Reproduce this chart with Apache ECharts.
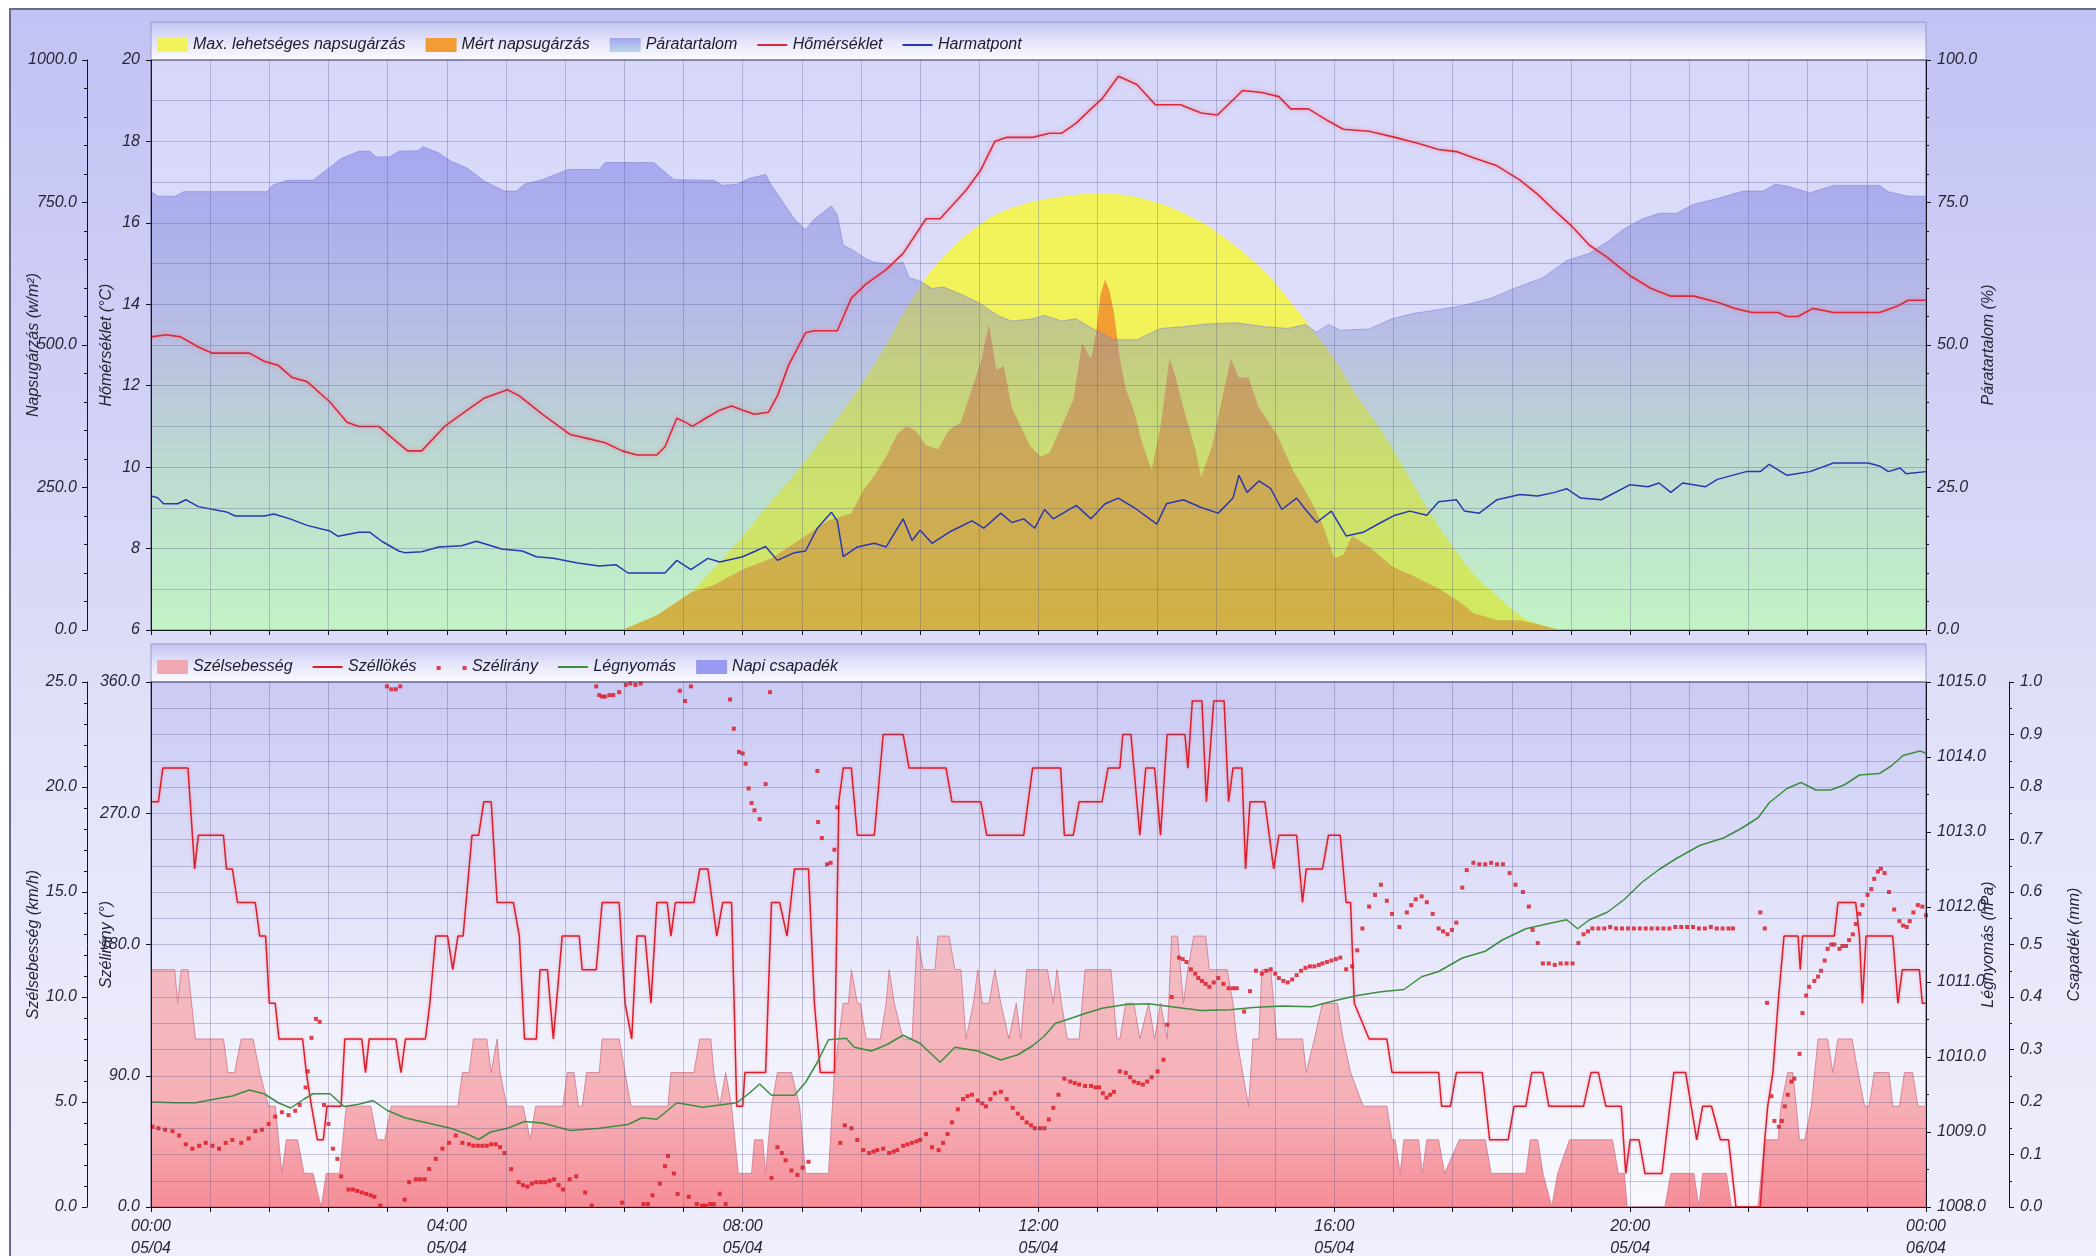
<!DOCTYPE html>
<html><head><meta charset="utf-8">
<script src="https://cdn.jsdelivr.net/npm/echarts@6/dist/echarts.min.js"></script>
<style>html,body{margin:0;padding:0;background:#fff}#c{width:2096px;height:1256px}</style>
</head><body><div id="c"></div>
<script>
// x values are hours of 05/04 (0 = 00:00, 24 = 00:00 of 06/04)
const timeTickLabels = ['00:00\n05/04','04:00\n05/04','08:00\n05/04','12:00\n05/04','16:00\n05/04','20:00\n05/04','00:00\n06/04'];

const temperature = [[0,13.2],[0.21,13.25],[0.4,13.2],[0.64,12.95],[0.83,12.8],[1.33,12.8],[1.53,12.6],[1.72,12.5],[1.91,12.2],[2.11,12.1],[2.42,11.6],[2.65,11.1],[2.81,11.0],[3.08,11.0],[3.27,10.7],[3.47,10.4],[3.66,10.4],[3.97,11.0],[4.2,11.3],[4.51,11.7],[4.82,11.9],[4.98,11.75],[5.29,11.3],[5.67,10.8],[5.91,10.7],[6.14,10.6],[6.37,10.4],[6.57,10.3],[6.84,10.3],[6.95,10.5],[7.11,11.2],[7.23,11.1],[7.32,11.0],[7.5,11.2],[7.69,11.4],[7.85,11.5],[8.0,11.4],[8.16,11.3],[8.35,11.35],[8.47,11.75],[8.62,12.5],[8.85,13.3],[8.97,13.35],[9.28,13.35],[9.47,14.15],[9.67,14.5],[9.94,14.85],[10.17,15.25],[10.48,16.1],[10.67,16.1],[11.02,16.8],[11.22,17.3],[11.41,18.0],[11.57,18.1],[11.92,18.1],[12.15,18.2],[12.31,18.2],[12.51,18.45],[12.71,18.8],[12.86,19.05],[13.08,19.6],[13.33,19.4],[13.58,18.9],[13.92,18.9],[14.2,18.7],[14.42,18.65],[14.59,18.95],[14.76,19.25],[15.02,19.2],[15.25,19.1],[15.41,18.8],[15.65,18.8],[15.92,18.5],[16.12,18.3],[16.47,18.25],[16.82,18.1],[17.14,17.95],[17.41,17.8],[17.65,17.75],[17.88,17.6],[18.2,17.4],[18.51,17.05],[18.75,16.7],[18.98,16.3],[19.22,15.9],[19.45,15.45],[19.69,15.15],[20.0,14.7],[20.27,14.4],[20.55,14.2],[20.86,14.2],[21.18,14.05],[21.41,13.9],[21.65,13.8],[22.0,13.8],[22.12,13.7],[22.27,13.7],[22.47,13.9],[22.75,13.8],[23.37,13.8],[23.61,13.95],[23.76,14.1],[24,14.1]];

const dewPoint = [[0,9.29],[0.09,9.25],[0.17,9.1],[0.36,9.1],[0.47,9.2],[0.64,9.03],[1.02,8.9],[1.14,8.8],[1.53,8.8],[1.66,8.85],[1.88,8.73],[2.11,8.57],[2.42,8.43],[2.53,8.3],[2.81,8.4],[2.96,8.4],[3.12,8.18],[3.35,7.94],[3.43,7.9],[3.66,7.92],[3.89,8.04],[4.2,8.07],[4.4,8.18],[4.74,7.99],[5.02,7.94],[5.21,7.8],[5.44,7.76],[5.75,7.65],[6.06,7.57],[6.29,7.6],[6.45,7.4],[6.95,7.4],[7.11,7.71],[7.3,7.48],[7.53,7.76],[7.69,7.67],[8.0,7.8],[8.31,8.05],[8.47,7.71],[8.7,7.9],[8.85,7.94],[9.01,8.5],[9.2,8.89],[9.28,8.68],[9.36,7.8],[9.55,8.04],[9.78,8.13],[9.94,8.04],[10.17,8.73],[10.29,8.2],[10.4,8.45],[10.56,8.13],[10.79,8.4],[11.1,8.68],[11.26,8.5],[11.49,8.87],[11.64,8.64],[11.8,8.73],[11.95,8.5],[12.08,8.96],[12.2,8.73],[12.51,9.06],[12.71,8.73],[12.9,9.1],[13.08,9.24],[13.33,8.96],[13.6,8.6],[13.73,9.1],[13.96,9.2],[14.2,9.01],[14.43,8.87],[14.63,9.24],[14.71,9.8],[14.82,9.38],[14.98,9.66],[15.14,9.47],[15.29,8.96],[15.49,9.24],[15.61,8.96],[15.76,8.64],[15.96,8.92],[16.16,8.31],[16.39,8.4],[16.63,8.64],[16.82,8.82],[17.02,8.92],[17.25,8.82],[17.41,9.15],[17.65,9.2],[17.76,8.92],[17.96,8.87],[18.2,9.2],[18.51,9.33],[18.75,9.29],[18.98,9.38],[19.14,9.47],[19.33,9.24],[19.61,9.2],[20.0,9.57],[20.24,9.52],[20.39,9.61],[20.55,9.38],[20.71,9.61],[21.02,9.52],[21.18,9.7],[21.57,9.89],[21.76,9.89],[21.88,10.07],[22.12,9.8],[22.43,9.89],[22.75,10.1],[23.22,10.1],[23.37,10.03],[23.49,9.89],[23.65,9.98],[23.73,9.84],[24,9.89]];

const humidity = [[0,77.0],[0.09,76.1],[0.33,76.1],[0.44,76.9],[1.57,76.9],[1.64,78.0],[1.84,78.9],[2.19,78.9],[2.38,80.8],[2.57,82.7],[2.81,84.0],[2.96,84.0],[3.04,83.0],[3.23,83.0],[3.35,84.0],[3.62,84.1],[3.67,84.8],[3.89,83.7],[4.05,82.3],[4.28,81.0],[4.51,78.7],[4.78,77.0],[4.94,77.0],[5.05,78.2],[5.29,79.0],[5.64,80.8],[6.06,80.8],[6.14,82.0],[6.8,82.0],[7.07,79.0],[7.61,78.9],[7.73,78.0],[7.92,78.2],[8.08,79.2],[8.31,79.9],[8.39,78.0],[8.7,72.1],[8.85,70.2],[8.97,72.1],[9.2,74.4],[9.28,72.8],[9.36,67.5],[9.47,66.8],[9.67,65.1],[9.78,64.5],[10.02,64.2],[10.17,64.5],[10.25,61.8],[10.4,61.2],[10.56,59.9],[10.71,60.2],[10.95,58.9],[11.18,57.5],[11.33,56.2],[11.49,54.9],[11.64,54.2],[11.92,54.6],[12.08,55.2],[12.31,54.2],[12.51,54.6],[12.71,53.0],[13.02,50.9],[13.33,50.9],[13.65,52.9],[13.96,53.2],[14.27,53.7],[14.67,53.9],[15.06,53.2],[15.37,52.9],[15.61,53.6],[15.76,52.2],[15.92,53.6],[16.08,52.6],[16.47,52.8],[16.78,54.6],[17.1,55.6],[17.41,56.2],[17.73,56.9],[18.12,58.2],[18.43,59.9],[18.82,61.8],[19.14,64.8],[19.45,66.1],[19.69,68.1],[19.92,70.4],[20.16,72.1],[20.39,73.1],[20.63,73.1],[20.86,74.7],[21.18,75.7],[21.53,77.0],[21.8,77.0],[21.96,78.2],[22.12,77.9],[22.43,76.7],[22.75,78.0],[23.37,78.0],[23.49,76.9],[23.76,76.1],[24,76.1]];

const maxRadiation = [[6.37,0],[6.66,7],[6.97,26],[7.34,71],[7.85,142],[8.31,214],[8.78,286],[9.2,357],[9.59,428],[9.94,501],[10.25,572],[10.64,644],[11.26,716],[11.8,747],[12.39,762],[12.82,766],[13.49,754],[14.12,721],[14.59,681],[15.06,628],[15.37,582],[15.69,529],[16.0,476],[16.31,410],[16.63,351],[16.94,284],[17.25,215],[17.57,152],[17.88,99],[18.2,60],[18.51,26],[18.82,7],[19.06,0]];

const measuredRadiation = [[6.37,0],[6.84,26],[7.3,66],[7.61,79],[8.0,106],[8.39,126],[8.78,159],[9.16,192],[9.47,205],[9.63,245],[9.78,271],[9.94,304],[10.09,344],[10.21,357],[10.33,351],[10.48,324],[10.64,317],[10.79,351],[10.95,364],[11.1,423],[11.22,470],[11.33,536],[11.43,456],[11.53,463],[11.64,390],[11.76,357],[11.88,324],[12.03,304],[12.15,311],[12.31,357],[12.47,403],[12.59,503],[12.71,476],[12.78,522],[12.84,589],[12.9,615],[12.96,595],[13.02,556],[13.1,476],[13.18,423],[13.29,384],[13.41,324],[13.53,281],[13.65,357],[13.77,476],[13.84,450],[13.96,390],[14.12,317],[14.2,268],[14.35,324],[14.51,423],[14.6,476],[14.71,443],[14.84,443],[14.98,390],[15.22,344],[15.45,278],[15.69,225],[15.84,185],[16.0,126],[16.12,132],[16.24,165],[16.47,146],[16.78,112],[17.1,93],[17.41,73],[17.73,46],[17.88,30],[18.2,17],[18.51,17],[18.75,10],[19.06,0]];

const windSpeed = [[0,11.3],[0.32,11.3],[0.36,9.7],[0.41,11.3],[0.5,11.3],[0.6,8.0],[0.98,8.0],[1.04,6.4],[1.13,6.4],[1.22,8.0],[1.38,8.0],[1.47,6.4],[1.59,4.8],[1.68,4.8],[1.77,1.6],[1.83,3.2],[1.98,3.2],[2.07,1.6],[2.19,1.6],[2.3,0],[2.37,1.6],[2.55,1.6],[2.64,4.8],[2.97,4.8],[3.06,3.2],[3.16,3.2],[3.25,4.8],[4.15,4.8],[4.21,6.4],[4.3,6.4],[4.36,8.0],[4.54,8.0],[4.6,6.4],[4.68,8.0],[4.72,6.4],[4.81,4.8],[5.03,4.8],[5.13,3.2],[5.2,4.8],[5.57,4.8],[5.63,6.4],[5.72,6.4],[5.78,4.8],[5.83,4.8],[5.89,6.4],[6.06,6.4],[6.1,8.0],[6.33,8.0],[6.41,6.4],[6.49,4.8],[6.99,4.8],[7.03,6.4],[7.34,6.4],[7.42,8.0],[7.57,8.0],[7.61,6.4],[7.69,4.8],[7.77,6.4],[7.85,4.8],[7.94,1.6],[8.12,1.6],[8.16,3.2],[8.27,3.2],[8.31,1.6],[8.39,4.8],[8.47,6.4],[8.66,6.4],[8.77,4.8],[8.85,1.6],[9.16,1.6],[9.24,6.4],[9.36,9.7],[9.43,9.7],[9.47,11.3],[9.55,9.7],[9.59,9.7],[9.67,8.0],[9.86,8.0],[9.94,9.7],[9.98,11.3],[10.05,9.7],[10.17,8.0],[10.29,8.0],[10.36,12.9],[10.44,11.3],[10.6,11.3],[10.64,12.9],[10.79,12.9],[10.87,11.3],[10.95,11.3],[11.02,8.0],[11.12,9.7],[11.18,11.3],[11.24,9.7],[11.33,9.7],[11.41,11.3],[11.49,9.7],[11.6,8.0],[11.7,9.7],[11.76,8.0],[11.84,11.3],[12.12,11.3],[12.2,9.7],[12.25,11.3],[12.31,9.7],[12.39,8.0],[12.55,8.0],[12.63,11.3],[12.98,11.3],[13.06,8.0],[13.1,8.0],[13.18,9.7],[13.29,9.7],[13.37,8.0],[13.49,9.7],[13.57,8.0],[13.65,9.7],[13.74,8.0],[13.8,12.9],[13.88,12.9],[13.96,9.7],[14.02,11.3],[14.1,12.9],[14.26,12.9],[14.31,11.3],[14.55,11.3],[14.63,9.7],[14.68,8.0],[14.76,6.4],[14.84,4.8],[14.9,8.0],[14.98,8.0],[15.02,11.3],[15.14,11.3],[15.22,8.0],[15.57,8.0],[15.62,6.4],[15.73,8.0],[15.84,9.7],[16.04,9.7],[16.12,8.0],[16.22,6.4],[16.39,4.8],[16.71,4.8],[16.78,3.2],[16.82,3.2],[16.89,1.6],[16.94,3.2],[17.14,3.2],[17.19,1.6],[17.25,3.2],[17.41,3.2],[17.49,1.6],[17.69,3.2],[18.04,3.2],[18.12,1.6],[18.59,1.6],[18.65,3.2],[18.75,3.2],[18.82,1.6],[18.94,0],[19.02,1.6],[19.18,3.2],[19.76,3.2],[19.84,1.6],[19.92,1.6],[19.96,0],[20.47,0],[20.55,1.6],[20.86,1.6],[20.93,0],[20.98,1.6],[21.3,1.6],[21.37,0],[21.73,0],[21.82,3.2],[22.0,3.2],[22.04,4.8],[22.13,6.4],[22.2,6.4],[22.29,3.2],[22.36,3.2],[22.45,4.8],[22.54,8.0],[22.67,8.0],[22.74,6.4],[22.81,8.0],[23.0,8.0],[23.08,6.4],[23.17,4.8],[23.23,4.8],[23.3,6.4],[23.5,6.4],[23.55,4.8],[23.64,4.8],[23.71,6.4],[23.82,6.4],[23.89,4.8],[24,4.8]];

const windGust = [[0,19.3],[0.1,19.3],[0.16,20.9],[0.5,20.9],[0.59,16.1],[0.64,17.7],[0.98,17.7],[1.02,16.1],[1.1,16.1],[1.17,14.5],[1.41,14.5],[1.47,12.9],[1.55,12.9],[1.6,9.7],[1.68,9.7],[1.73,8.0],[2.05,8.0],[2.1,6.4],[2.17,4.8],[2.25,3.2],[2.33,3.2],[2.38,4.8],[2.57,4.8],[2.62,8.0],[2.85,8.0],[2.9,6.4],[2.95,8.0],[3.31,8.0],[3.38,6.4],[3.44,8.0],[3.71,8.0],[3.77,9.7],[3.85,12.9],[4.01,12.9],[4.08,11.3],[4.15,12.9],[4.22,12.9],[4.34,17.7],[4.43,17.7],[4.5,19.3],[4.6,19.3],[4.68,14.5],[4.9,14.5],[4.98,12.9],[5.05,8.0],[5.21,8.0],[5.26,11.3],[5.36,11.3],[5.44,8.0],[5.56,12.9],[5.79,12.9],[5.83,11.3],[6.02,11.3],[6.1,14.5],[6.33,14.5],[6.41,9.7],[6.5,8.0],[6.57,12.9],[6.68,12.9],[6.76,9.7],[6.84,14.5],[6.98,14.5],[7.03,12.9],[7.09,14.5],[7.34,14.5],[7.42,16.1],[7.53,16.1],[7.65,12.9],[7.73,14.5],[7.85,14.5],[7.92,4.8],[8.0,4.8],[8.03,6.4],[8.31,6.4],[8.39,14.5],[8.5,14.5],[8.6,12.9],[8.7,16.1],[8.89,16.1],[8.97,9.7],[9.05,6.4],[9.24,6.4],[9.3,19.3],[9.36,20.9],[9.47,20.9],[9.55,17.7],[9.78,17.7],[9.9,22.5],[10.17,22.5],[10.25,20.9],[10.75,20.9],[10.83,19.3],[11.22,19.3],[11.3,17.7],[11.8,17.7],[11.92,20.9],[12.3,20.9],[12.35,17.7],[12.47,17.7],[12.55,19.3],[12.86,19.3],[12.94,20.9],[13.1,20.9],[13.14,22.5],[13.25,22.5],[13.37,17.7],[13.45,20.9],[13.57,20.9],[13.65,17.7],[13.74,22.5],[13.98,22.5],[14.02,20.9],[14.08,24.1],[14.21,24.1],[14.27,19.3],[14.37,24.1],[14.51,24.1],[14.57,19.3],[14.63,20.9],[14.75,20.9],[14.8,16.1],[14.86,19.3],[15.06,19.3],[15.18,16.1],[15.25,17.7],[15.49,17.7],[15.57,14.5],[15.62,16.1],[15.84,16.1],[15.92,17.7],[16.08,17.7],[16.16,14.5],[16.22,14.5],[16.27,9.7],[16.47,8.0],[16.71,8.0],[16.78,6.4],[17.41,6.4],[17.45,4.8],[17.57,4.8],[17.65,6.4],[18.0,6.4],[18.1,3.2],[18.35,3.2],[18.43,4.8],[18.59,4.8],[18.67,6.4],[18.82,6.4],[18.9,4.8],[19.37,4.8],[19.47,6.4],[19.57,6.4],[19.67,4.8],[19.88,4.8],[19.94,1.6],[20.0,3.2],[20.12,3.2],[20.2,1.6],[20.43,1.6],[20.59,6.4],[20.75,6.4],[20.9,3.2],[20.98,4.8],[21.1,4.8],[21.22,3.2],[21.33,3.2],[21.43,0],[21.76,0],[21.82,3.2],[21.86,4.8],[21.93,6.4],[22.0,9.7],[22.04,11.3],[22.08,12.9],[22.27,12.9],[22.3,11.3],[22.33,12.9],[22.76,12.9],[22.81,14.5],[23.05,14.5],[23.1,12.9],[23.14,9.7],[23.19,12.9],[23.55,12.9],[23.62,9.7],[23.68,11.3],[23.91,11.3],[23.95,9.7],[24,9.7]];

const windDirection = [[0.02,55],[0.1,54],[0.19,53],[0.29,52],[0.38,49],[0.47,43],[0.56,40],[0.65,42],[0.74,44],[0.83,42],[0.92,40],[1.01,44],[1.1,46],[1.22,44],[1.32,47],[1.41,52],[1.5,53],[1.59,57],[1.68,62],[1.77,65],[1.86,63],[1.95,66],[2.01,70],[2.09,82],[2.12,93],[2.17,116],[2.23,129],[2.28,127],[2.34,70],[2.4,57],[2.46,40],[2.52,33],[2.57,21],[2.67,12],[2.73,12],[2.79,11],[2.85,10],[2.91,9],[2.97,8],[3.02,7],[3.1,1],[3.19,357],[3.25,355],[3.31,355],[3.37,357],[3.43,5],[3.49,17],[3.58,19],[3.64,19],[3.7,19],[3.76,26],[3.85,33],[3.94,40],[4.03,44],[4.12,49],[4.21,44],[4.3,43],[4.36,42],[4.42,42],[4.48,42],[4.54,42],[4.6,43],[4.66,43],[4.72,41],[4.78,37],[4.87,26],[4.97,17],[5.03,15],[5.09,14],[5.15,16],[5.21,17],[5.27,17],[5.33,17],[5.39,18],[5.45,19],[5.51,15],[5.57,12],[5.66,19],[5.75,21],[5.87,10],[5.96,1],[6.02,357],[6.06,351],[6.1,350],[6.14,350],[6.2,351],[6.25,351],[6.33,353],[6.37,3],[6.42,358],[6.48,359],[6.55,358],[6.62,359],[6.66,2],[6.72,2],[6.78,8],[6.88,16],[6.95,28],[6.99,35],[7.07,23],[7.12,9],[7.15,354],[7.22,347],[7.27,7],[7.3,357],[7.38,2],[7.45,1],[7.5,1],[7.56,2],[7.61,2],[7.69,9],[7.77,2],[7.83,348],[7.88,328],[7.95,312],[8.0,311],[8.04,304],[8.08,287],[8.12,277],[8.16,272],[8.23,266],[8.31,290],[8.37,353],[8.39,20],[8.47,41],[8.53,37],[8.58,32],[8.66,25],[8.74,22],[8.81,27],[8.89,31],[9.01,299],[9.02,264],[9.07,253],[9.14,235],[9.19,236],[9.24,245],[9.28,274],[9.32,44],[9.38,56],[9.47,54],[9.55,46],[9.63,39],[9.71,37],[9.77,38],[9.82,39],[9.9,40],[9.98,37],[10.04,38],[10.09,39],[10.17,42],[10.23,43],[10.29,44],[10.35,45],[10.4,46],[10.48,50],[10.56,41],[10.65,39],[10.71,44],[10.77,50],[10.83,58],[10.91,67],[10.98,74],[11.04,76],[11.1,77],[11.18,73],[11.24,71],[11.29,69],[11.35,74],[11.41,78],[11.49,79],[11.57,74],[11.65,68],[11.72,64],[11.78,61],[11.84,58],[11.9,56],[11.95,54],[12.02,54],[12.08,54],[12.14,60],[12.2,68],[12.27,77],[12.35,88],[12.43,86],[12.49,85],[12.55,84],[12.63,83],[12.71,83],[12.77,82],[12.82,82],[12.87,78],[12.92,75],[12.97,77],[13.02,79],[13.1,93],[13.18,92],[13.24,89],[13.29,86],[13.35,85],[13.41,84],[13.47,86],[13.53,89],[13.61,93],[13.69,101],[13.74,125],[13.8,144],[13.9,171],[13.95,170],[14.0,168],[14.06,163],[14.12,160],[14.16,157],[14.21,155],[14.26,153],[14.31,151],[14.37,154],[14.43,157],[14.5,153],[14.57,150],[14.63,150],[14.68,150],[14.78,134],[14.86,148],[14.94,162],[15.02,160],[15.08,162],[15.14,163],[15.2,160],[15.25,157],[15.31,155],[15.37,154],[15.43,156],[15.49,159],[15.55,162],[15.61,164],[15.67,165],[15.73,165],[15.79,166],[15.84,167],[15.9,168],[15.96,169],[16.02,170],[16.08,171],[16.16,163],[16.24,165],[16.31,176],[16.38,191],[16.47,206],[16.55,214],[16.63,221],[16.71,210],[16.78,201],[16.88,192],[16.98,202],[17.04,207],[17.1,211],[17.18,213],[17.25,209],[17.33,201],[17.41,191],[17.47,189],[17.53,187],[17.59,190],[17.65,195],[17.73,219],[17.79,231],[17.88,236],[17.96,235],[18.04,235],[18.12,236],[18.2,235],[18.28,235],[18.37,229],[18.45,221],[18.55,216],[18.63,206],[18.68,190],[18.75,181],[18.82,167],[18.9,167],[18.98,166],[19.06,167],[19.14,167],[19.22,167],[19.3,181],[19.37,187],[19.43,189],[19.49,191],[19.57,191],[19.65,191],[19.73,192],[19.81,191],[19.89,191],[19.97,191],[20.05,191],[20.13,191],[20.21,191],[20.29,191],[20.37,191],[20.45,191],[20.53,191],[20.61,192],[20.69,192],[20.77,192],[20.85,192],[20.93,191],[21.01,191],[21.09,192],[21.17,191],[21.25,191],[21.33,191],[21.39,191],[21.76,202],[21.82,191],[21.85,140],[21.91,76],[21.95,59],[22.01,55],[22.05,59],[22.09,69],[22.13,77],[22.18,86],[22.22,88],[22.29,105],[22.33,133],[22.38,145],[22.42,151],[22.49,155],[22.54,158],[22.58,162],[22.63,169],[22.67,177],[22.72,180],[22.76,180],[22.83,177],[22.87,179],[22.92,179],[22.96,183],[23.01,187],[23.05,194],[23.1,201],[23.14,207],[23.21,214],[23.26,218],[23.3,225],[23.35,230],[23.39,232],[23.44,229],[23.5,216],[23.57,204],[23.64,196],[23.69,193],[23.74,192],[23.78,196],[23.83,202],[23.89,207],[23.95,206],[24.0,200]];

const pressure = [[0,1009.40],[0.33,1009.39],[0.6,1009.39],[0.87,1009.44],[1.1,1009.48],[1.33,1009.56],[1.53,1009.51],[1.72,1009.39],[1.89,1009.32],[2.07,1009.44],[2.19,1009.51],[2.42,1009.51],[2.61,1009.34],[2.81,1009.37],[3.0,1009.42],[3.19,1009.29],[3.43,1009.19],[3.74,1009.12],[4.05,1009.05],[4.28,1008.97],[4.43,1008.90],[4.59,1009.0],[4.82,1009.05],[5.05,1009.14],[5.29,1009.12],[5.67,1009.02],[6.06,1009.05],[6.45,1009.10],[6.64,1009.19],[6.84,1009.17],[7.11,1009.39],[7.46,1009.33],[7.92,1009.39],[8.08,1009.51],[8.23,1009.64],[8.39,1009.49],[8.7,1009.49],[8.85,1009.66],[9.01,1009.93],[9.16,1010.23],[9.4,1010.25],[9.51,1010.13],[9.74,1010.08],[9.94,1010.16],[10.17,1010.29],[10.4,1010.18],[10.67,1009.93],[10.87,1010.13],[11.18,1010.08],[11.49,1009.96],[11.72,1010.03],[11.92,1010.15],[12.08,1010.28],[12.23,1010.45],[12.39,1010.50],[12.63,1010.58],[12.86,1010.65],[13.18,1010.70],[13.49,1010.71],[13.8,1010.67],[14.2,1010.62],[14.59,1010.63],[14.9,1010.66],[15.29,1010.68],[15.69,1010.67],[16.0,1010.75],[16.31,1010.82],[16.63,1010.87],[16.94,1010.90],[17.18,1011.07],[17.41,1011.14],[17.73,1011.32],[18.04,1011.41],[18.27,1011.56],[18.59,1011.71],[18.9,1011.78],[19.14,1011.83],[19.29,1011.71],[19.45,1011.83],[19.69,1011.93],[19.92,1012.10],[20.16,1012.33],[20.39,1012.50],[20.63,1012.65],[20.94,1012.82],[21.26,1012.92],[21.49,1013.04],[21.73,1013.19],[21.88,1013.39],[22.12,1013.58],[22.31,1013.66],[22.51,1013.56],[22.71,1013.56],[22.9,1013.63],[23.1,1013.76],[23.37,1013.78],[23.53,1013.88],[23.69,1014.02],[23.92,1014.08],[24,1014.05]];

const dailyRain = [[0,0],[24,0]];

const FONT = "'Liberation Sans', Arial, sans-serif";
const TXT = '#262636';
const GRIDLINE = 'rgba(80,80,130,0.30)';
const LINE_ICON = 'path://M0,0M0,6h30v2h-30zM30,14';
// bottom plot occupies y 682..1207 on the page
const BOTTOM_TOP = 682, BOTTOM_BOTTOM = 1207;

function lin(stops){ return {type:'linear',x:0,y:0,x2:0,y2:1,colorStops:stops.map(s=>Array.isArray(s)?{offset:s[0],color:s[1]}:s).map((c,i,a)=>typeof c==='string'?{offset:i/(a.length-1),color:c}:c)}; }

const labelStyle = {fontFamily:FONT, fontSize:16, fontStyle:'italic', color:TXT};
const nameStyle = {fontFamily:FONT, fontSize:16, fontStyle:'italic', color:TXT};

function xAxisCfg(grid, showLabels){
  return {
    type:'value', gridIndex:grid, min:0, max:24, interval:0.8, z:5,
    axisLine:{show:true, onZero:false, lineStyle:{color:'#141420', width:1}},
    axisTick:{show:true, length:5, lineStyle:{color:'#141420'}},
    splitLine:{show:true, lineStyle:{color:GRIDLINE, width:1}},
    axisLabel: showLabels ? Object.assign({show:true, margin:9, lineHeight:22, hideOverlap:false, showMinLabel:true, showMaxLabel:true,
      formatter:function(v){ const i=Math.round(v/4); return Math.abs(v-i*4)<1e-6 ? timeTickLabels[i] : ''; }}, labelStyle) : {show:false}
  };
}
function yAxisCfg(o){
  const base = {
    type:'value', z:5, nameLocation:'middle', nameRotate:90, nameTextStyle:nameStyle, nameMoveOverlap:false,
    axisLine:{show:true, onZero:false, lineStyle:{color:'#141420', width:1}},
    axisTick:{show:true, length:5, lineStyle:{color:'#141420'}},
    axisLabel:Object.assign({margin:11, hideOverlap:false, showMinLabel:true, showMaxLabel:true}, labelStyle),
    splitLine:{show:false}
  };
  return Object.assign(base, o);
}
const fix1 = v => v.toFixed(1);

const option = {
  animation:false,
  backgroundColor:'#ffffff',
  graphic:[
    {type:'rect', z:-20, silent:true, shape:{x:10,y:9,width:2100,height:1260},
     style:{fill:lin(['#c2c2f4','#d2d2f6','#e6e6fa','#eeeefc']), stroke:'#6a6a88', lineWidth:2}},
    {type:'rect', z:-10, silent:true, shape:{x:151,y:22,width:1775,height:38},
     style:{fill:lin(['#c2c2f2','#e4e4fa','#fbfbff']), stroke:'#9a9abf', lineWidth:1}},
    {type:'rect', z:-10, silent:true, shape:{x:151,y:644,width:1775,height:38},
     style:{fill:lin(['#c2c2f2','#e4e4fa','#fbfbff']), stroke:'#9a9abf', lineWidth:1}}
  ],
  legend:[
    {left:152, top:32, itemWidth:31, itemHeight:14, itemGap:20, textStyle:{fontFamily:FONT,fontSize:16,fontStyle:'italic',color:'#1c1c2c'},
     data:[{name:'Max. lehetséges napsugárzás',icon:'rect'},{name:'Mért napsugárzás',icon:'rect'},{name:'Páratartalom',icon:'rect'},{name:'Hőmérséklet',icon:LINE_ICON},{name:'Harmatpont',icon:LINE_ICON}]},
    {left:152, top:654, itemWidth:31, itemHeight:14, itemGap:20, textStyle:{fontFamily:FONT,fontSize:16,fontStyle:'italic',color:'#1c1c2c'},
     data:[{name:'Szélsebesség',icon:'rect'},{name:'Széllökés',icon:LINE_ICON},{name:'Szélirány',icon:'path://M0,0M0,6h4v4h-4zM26,6h4v4h-4zM30,14'},{name:'Légnyomás',icon:LINE_ICON},{name:'Napi csapadék',icon:'rect'}]}
  ],
  grid:[
    {left:151, right:170, top:60, height:570, show:true, borderWidth:1, borderColor:'#54546e', outerBoundsMode:'none',
     backgroundColor:lin([[0,'#d6d6f9'],[0.45,'#dedefa'],[0.55,'#e0e0fa'],[0.7,'#d8eaf6'],[1,'#dcfffa']])},
    {left:151, right:170, top:682, height:525, show:true, borderWidth:1, borderColor:'#54546e', outerBoundsMode:'none',
     backgroundColor:lin(['#cacaf4','#dcdcf8','#f0f0fc','#f8f8fe'])}
  ],
  xAxis:[ xAxisCfg(0,false), xAxisCfg(1,true) ],
  yAxis:[
    yAxisCfg({gridIndex:0, position:'left', min:6, max:20, interval:2, name:'Hőmérséklet (°C)', nameGap:36,
      splitLine:{show:true, lineStyle:{color:GRIDLINE}}, minorTick:{show:false, splitNumber:2}, minorSplitLine:{show:true, lineStyle:{color:GRIDLINE}},
      axisLabel:Object.assign({margin:11, hideOverlap:false, formatter:v=>String(v)}, labelStyle)}),
    yAxisCfg({gridIndex:0, position:'left', offset:64, min:0, max:1000, interval:250, name:'Napsugárzás (w/m²)', nameGap:45,
      minorTick:{show:true, splitNumber:5, length:3, lineStyle:{color:'#141420'}}, axisLabel:Object.assign({margin:10, hideOverlap:false, formatter:fix1}, labelStyle)}),
    yAxisCfg({gridIndex:0, position:'right', min:0, max:100, interval:25, name:'Páratartalom (%)', nameGap:55,
      minorTick:{show:true, splitNumber:5, length:3, lineStyle:{color:'#141420'}}, axisLabel:Object.assign({margin:11, hideOverlap:false, formatter:fix1}, labelStyle)}),
    yAxisCfg({gridIndex:1, position:'left', min:0, max:360, interval:90, name:'Szélirány (°)', nameGap:36,
      axisLabel:Object.assign({margin:11, hideOverlap:false, formatter:fix1}, labelStyle)}),
    yAxisCfg({gridIndex:1, position:'left', offset:64, min:0, max:25, interval:5, name:'Szélsebesség (km/h)', nameGap:45,
      minorTick:{show:true, splitNumber:5, length:3, lineStyle:{color:'#141420'}}, axisLabel:Object.assign({margin:10, hideOverlap:false, formatter:fix1}, labelStyle)}),
    yAxisCfg({gridIndex:1, position:'right', min:1008, max:1015, interval:1, name:'Légnyomás (hPa)', nameGap:55,
      minorTick:{show:true, splitNumber:2, length:3, lineStyle:{color:'#141420'}}, axisLabel:Object.assign({margin:11, hideOverlap:false, formatter:fix1}, labelStyle)}),
    yAxisCfg({gridIndex:1, position:'right', offset:83, min:0, max:1, interval:0.1, name:'Csapadék (mm)', nameGap:58,
      splitLine:{show:true, lineStyle:{color:GRIDLINE}}, minorTick:{show:true, splitNumber:2, length:3, lineStyle:{color:'#141420'}}, minorSplitLine:{show:true, lineStyle:{color:GRIDLINE}},
      axisLabel:Object.assign({margin:11, hideOverlap:false, formatter:fix1}, labelStyle)})
  ],
  series:[
    {name:'Max. lehetséges napsugárzás', type:'line', xAxisIndex:0, yAxisIndex:1, data:maxRadiation, smooth:0.4, symbol:'none', z:1,
     itemStyle:{color:'#f2f25a'}, lineStyle:{width:0, color:'#f2f25a'}, areaStyle:{color:'#f2f25a', opacity:1}},
    {name:'Mért napsugárzás', type:'line', xAxisIndex:0, yAxisIndex:1, data:measuredRadiation, symbol:'none', z:2,
     itemStyle:{color:'#f29c34'}, lineStyle:{width:0, color:'#f29c34'}, areaStyle:{color:'#f29c34', opacity:1}},
    {name:'Páratartalom', type:'line', xAxisIndex:0, yAxisIndex:2, data:humidity, symbol:'none', z:3,
     itemStyle:{color:lin(['#a4a4ee','#b8d8e8'])}, lineStyle:{width:1, color:'rgba(120,120,215,0.5)'},
     areaStyle:{opacity:1, color:lin([[0,'rgba(110,110,230,0.47)'],[0.35,'rgba(130,140,205,0.43)'],[0.65,'rgba(140,190,150,0.38)'],[1,'rgba(150,220,100,0.35)']])}},
    {name:'Hőmérséklet', type:'line', xAxisIndex:0, yAxisIndex:0, data:temperature, symbol:'none', z:4,
     itemStyle:{color:'#d82a3c'}, lineStyle:{width:1.6, color:'#d82a3c', shadowBlur:4, shadowColor:'rgba(255,110,130,0.8)'}},
    {name:'Harmatpont', type:'line', xAxisIndex:0, yAxisIndex:0, data:dewPoint, symbol:'none', z:4,
     itemStyle:{color:'#2a36b4'}, lineStyle:{width:1.5, color:'#2a36b4'}},

    {name:'Szélsebesség', type:'line', xAxisIndex:1, yAxisIndex:4, data:windSpeed, symbol:'none', z:1,
     itemStyle:{color:'#f0a8b2'}, lineStyle:{width:1, color:'rgba(212,128,146,0.9)'},
     areaStyle:{opacity:1, color:{type:'linear', global:true, x:0, y:BOTTOM_TOP, x2:0, y2:BOTTOM_BOTTOM, colorStops:[
       {offset:0, color:'rgba(246,170,174,0.7)'},{offset:0.55, color:'rgba(246,166,170,0.7)'},{offset:0.8, color:'rgba(247,147,152,0.7)'},{offset:1, color:'rgba(244,100,112,0.72)'}]}}},
    {name:'Széllökés', type:'line', xAxisIndex:1, yAxisIndex:4, data:windGust, symbol:'none', z:3,
     itemStyle:{color:'#dc1e2a'}, lineStyle:{width:1.5, color:'#dc1e2a', shadowBlur:3, shadowColor:'rgba(255,120,140,0.7)'}},
    {name:'Szélirány', type:'scatter', xAxisIndex:1, yAxisIndex:3, data:windDirection, symbol:'rect', symbolSize:4, z:4,
     itemStyle:{color:'#dc1420'}},
    {name:'Légnyomás', type:'line', xAxisIndex:1, yAxisIndex:5, data:pressure, symbol:'none', z:3,
     itemStyle:{color:'#3d8f3f'}, lineStyle:{width:1.5, color:'#3d8f3f'}},
    {name:'Napi csapadék', type:'line', xAxisIndex:1, yAxisIndex:6, data:dailyRain, symbol:'none', z:2,
     itemStyle:{color:'#9a9af2'}, lineStyle:{width:0, color:'#9a9af2'}, areaStyle:{color:'#9a9af2'}}
  ]
};

const chart = echarts.init(document.getElementById('c'), null, {renderer:'canvas', width:2096, height:1256});
chart.setOption(option);
</script>
</body></html>
